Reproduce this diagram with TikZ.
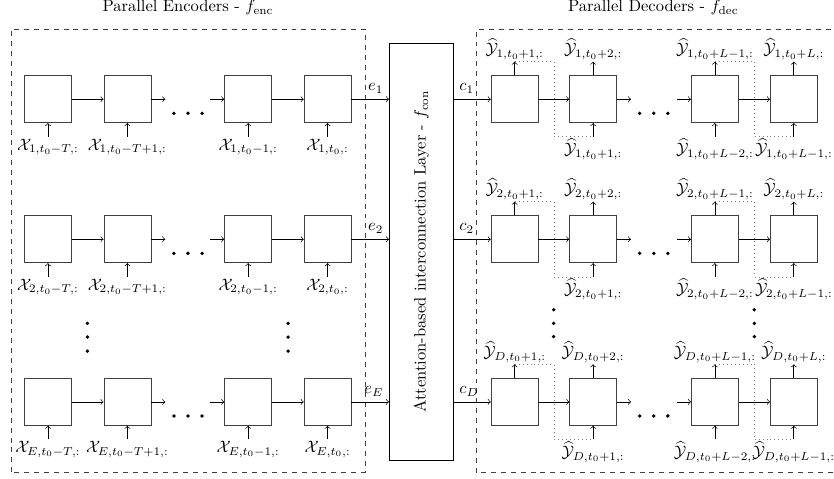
\documentclass[tikz,border=0pt]{standalone}
\usepackage{xcolor}
\usepackage{amsmath}
\usepackage{amsfonts}
\usepackage{amssymb}
\usetikzlibrary{calc}
\usetikzlibrary{positioning}

\begin{document}
\begin{tikzpicture}[->]
\tikzset{CellStyle/.style = {shape=rectangle, draw=darkgray, minimum size=1cm, inner sep=0pt}}
\tikzset{InStyle/.style = {anchor=north, inner sep=1pt}}
\tikzset{OutStyle/.style = {anchor=south, inner sep=1pt}}
\tikzset{FeedStyle/.style = {-, dotted, gray}}
\tikzset{FrameStyle/.style = {-, dashed, darkgray}}
\tikzset{DotStyle/.style = {-, fill=black}}
	\useasboundingbox (0,0) rectangle (17.745,10.191);

	\node[anchor=base] (tenc) at (4.0,9.936) {Parallel Encoders - $f_{\text{enc}}$};
	\node[anchor=base] (tdec) at (13.9,9.936) {Parallel Decoders - $f_{\text{dec}}$};
	\draw[FrameStyle] (0.234,0.143) rectangle (7.766,9.568);
	\draw[FrameStyle] (10.134,0.134) rectangle (18.2,9.568);

	\node[draw, rotate=90, minimum width=8.87cm, minimum height=1.36cm] (att) at (8.964,4.84) {Attention-based interconnection Layer - $f_{\text{con}}$};

	\node[CellStyle] (e11) at (1.02,8.08) {};
	\node[CellStyle] (e12) at (2.71,8.08) {};
	\node[CellStyle] (e13) at (5.28,8.08) {};
	\node[CellStyle] (e14) at (6.97,8.08) {};
	\coordinate[right=0.3cm of e12] (e1a);
	\coordinate[left=0.3cm of e13] (e1b);
	\node[InStyle] (x11) at (1.02,7.28) {$\mathcal{X}_{1,t_0-T,:}$};
	\node[InStyle] (x12) at (2.71,7.28) {$\mathcal{X}_{1,t_0-T+1,:}$};
	\node[InStyle] (x13) at (5.28,7.28) {$\mathcal{X}_{1,t_0-1,:}$};
	\node[InStyle] (x14) at (6.97,7.28) {$\mathcal{X}_{1,t_0,:}$};
	\draw (e11) -- (e12);
	\draw (e12) -- (e1a);
	\draw (e1b) -- (e13);
	\draw (e13) -- (e14);
	\draw (x11) -- (e11);
	\draw (x12) -- (e12);
	\draw (x13) -- (e13);
	\draw (x14) -- (e14);
	\draw (e14) -- (e14 -| att.north) node[above left] {$e_1$};
	\fill[DotStyle] (3.70,7.78) circle (0.04) (4.00,7.78) circle (0.04) (4.30,7.78) circle (0.04);

	\node[CellStyle] (e21) at (1.02,5.10) {};
	\node[CellStyle] (e22) at (2.71,5.10) {};
	\node[CellStyle] (e23) at (5.28,5.10) {};
	\node[CellStyle] (e24) at (6.97,5.10) {};
	\coordinate[right=0.3cm of e22] (e2a);
	\coordinate[left=0.3cm of e23] (e2b);
	\node[InStyle] (x21) at (1.02,4.30) {$\mathcal{X}_{2,t_0-T,:}$};
	\node[InStyle] (x22) at (2.71,4.30) {$\mathcal{X}_{2,t_0-T+1,:}$};
	\node[InStyle] (x23) at (5.28,4.30) {$\mathcal{X}_{2,t_0-1,:}$};
	\node[InStyle] (x24) at (6.97,4.30) {$\mathcal{X}_{2,t_0,:}$};
	\draw (e21) -- (e22);
	\draw (e22) -- (e2a);
	\draw (e2b) -- (e23);
	\draw (e23) -- (e24);
	\draw (x21) -- (e21);
	\draw (x22) -- (e22);
	\draw (x23) -- (e23);
	\draw (x24) -- (e24);
	\draw (e24) -- (e24 -| att.north) node[above left] {$e_2$};
	\fill[DotStyle] (3.70,4.80) circle (0.04) (4.00,4.80) circle (0.04) (4.30,4.80) circle (0.04);

	\fill[DotStyle] (1.86,3.31) circle (0.04) (1.86,3.02) circle (0.04) (1.86,2.72) circle (0.04);
	\fill[DotStyle] (6.13,3.31) circle (0.04) (6.13,3.02) circle (0.04) (6.13,2.72) circle (0.04);

	\node[CellStyle] (eE1) at (1.02,1.64) {};
	\node[CellStyle] (eE2) at (2.71,1.64) {};
	\node[CellStyle] (eE3) at (5.28,1.64) {};
	\node[CellStyle] (eE4) at (6.97,1.64) {};
	\coordinate[right=0.3cm of eE2] (eEa);
	\coordinate[left=0.3cm of eE3] (eEb);
	\node[InStyle] (xE1) at (1.02,0.84) {$\mathcal{X}_{E,t_0-T,:}$};
	\node[InStyle] (xE2) at (2.71,0.84) {$\mathcal{X}_{E,t_0-T+1,:}$};
	\node[InStyle] (xE3) at (5.28,0.84) {$\mathcal{X}_{E,t_0-1,:}$};
	\node[InStyle] (xE4) at (6.97,0.84) {$\mathcal{X}_{E,t_0,:}$};
	\draw (eE1) -- (eE2);
	\draw (eE2) -- (eEa);
	\draw (eEb) -- (eE3);
	\draw (eE3) -- (eE4);
	\draw (xE1) -- (eE1);
	\draw (xE2) -- (eE2);
	\draw (xE3) -- (eE3);
	\draw (xE4) -- (eE4);
	\draw (eE4) -- (eE4 -| att.north) node[above left] {$e_E$};
	\fill[DotStyle] (3.70,1.34) circle (0.04) (4.00,1.34) circle (0.04) (4.30,1.34) circle (0.04);

	\node[CellStyle] (d11) at (10.95,8.08) {};
	\node[CellStyle] (d12) at (12.62,8.08) {};
	\node[CellStyle] (d13) at (15.21,8.08) {};
	\node[CellStyle] (d14) at (16.89,8.08) {};
	\coordinate[right=0.3cm of d12] (d1a);
	\coordinate[left=0.3cm of d13] (d1b);
	\node[OutStyle] (yo11) at (10.95,8.88) {$\widehat{\mathcal{Y}}_{1,t_0+1,:}$};
	\node[OutStyle] (yo12) at (12.62,8.88) {$\widehat{\mathcal{Y}}_{1,t_0+2,:}$};
	\node[OutStyle] (yo13) at (15.21,8.88) {$\widehat{\mathcal{Y}}_{1,t_0+L-1,:}$};
	\node[OutStyle] (yo14) at (16.89,8.88) {$\widehat{\mathcal{Y}}_{1,t_0+L,:}$};
	\node[InStyle] (yi12) at (12.62,7.28) {$\widehat{\mathcal{Y}}_{1,t_0+1,:}$};
	\node[InStyle] (yi13) at (15.21,7.28) {$\widehat{\mathcal{Y}}_{1,t_0+L-2,:}$};
	\node[InStyle] (yi14) at (16.89,7.28) {$\widehat{\mathcal{Y}}_{1,t_0+L-1,:}$};
	\draw (d11 -| att.south) node[above right] {$c_1$} -- (d11);
	\draw (d11) -- (d12);
	\draw (d12) -- (d1a);
	\draw (d1b) -- (d13);
	\draw (d13) -- (d14);
	\draw (d11) -- (yo11);
	\draw (d12) -- (yo12);
	\draw (d13) -- (yo13);
	\draw (d14) -- (yo14);
	\draw (yi12) -- (d12);
	\draw (yi13) -- (d13);
	\draw (yi14) -- (d14);
	\draw[FeedStyle] (yo11.south) -| ($(d11)!0.5!(d12)$) |- (yi12.north);
	\draw[FeedStyle] (yo13.south) -| ($(d13)!0.5!(d14)$) |- (yi14.north);
	\fill[DotStyle] (13.61,7.78) circle (0.04) (13.91,7.78) circle (0.04) (14.21,7.78) circle (0.04);

	\node[CellStyle] (d21) at (10.95,5.10) {};
	\node[CellStyle] (d22) at (12.62,5.10) {};
	\node[CellStyle] (d23) at (15.21,5.10) {};
	\node[CellStyle] (d24) at (16.89,5.10) {};
	\coordinate[right=0.3cm of d22] (d2a);
	\coordinate[left=0.3cm of d23] (d2b);
	\node[OutStyle] (yo21) at (10.95,5.90) {$\widehat{\mathcal{Y}}_{2,t_0+1,:}$};
	\node[OutStyle] (yo22) at (12.62,5.90) {$\widehat{\mathcal{Y}}_{2,t_0+2,:}$};
	\node[OutStyle] (yo23) at (15.21,5.90) {$\widehat{\mathcal{Y}}_{2,t_0+L-1,:}$};
	\node[OutStyle] (yo24) at (16.89,5.90) {$\widehat{\mathcal{Y}}_{2,t_0+L,:}$};
	\node[InStyle] (yi22) at (12.62,4.30) {$\widehat{\mathcal{Y}}_{2,t_0+1,:}$};
	\node[InStyle] (yi23) at (15.21,4.30) {$\widehat{\mathcal{Y}}_{2,t_0+L-2,:}$};
	\node[InStyle] (yi24) at (16.89,4.30) {$\widehat{\mathcal{Y}}_{2,t_0+L-1,:}$};
	\draw (d21 -| att.south) node[above right] {$c_2$} -- (d21);
	\draw (d21) -- (d22);
	\draw (d22) -- (d2a);
	\draw (d2b) -- (d23);
	\draw (d23) -- (d24);
	\draw (d21) -- (yo21);
	\draw (d22) -- (yo22);
	\draw (d23) -- (yo23);
	\draw (d24) -- (yo24);
	\draw (yi22) -- (d22);
	\draw (yi23) -- (d23);
	\draw (yi24) -- (d24);
	\draw[FeedStyle] (yo21.south) -| ($(d21)!0.5!(d22)$) |- (yi22.north);
	\draw[FeedStyle] (yo23.south) -| ($(d23)!0.5!(d24)$) |- (yi24.north);
	\fill[DotStyle] (13.61,4.80) circle (0.04) (13.91,4.80) circle (0.04) (14.21,4.80) circle (0.04);

	\fill[DotStyle] (11.78,3.60) circle (0.04) (11.78,3.31) circle (0.04) (11.78,3.03) circle (0.04);
	\fill[DotStyle] (16.05,3.60) circle (0.04) (16.05,3.31) circle (0.04) (16.05,3.03) circle (0.04);

	\node[CellStyle] (dD1) at (10.95,1.64) {};
	\node[CellStyle] (dD2) at (12.62,1.64) {};
	\node[CellStyle] (dD3) at (15.21,1.64) {};
	\node[CellStyle] (dD4) at (16.89,1.64) {};
	\coordinate[right=0.3cm of dD2] (dDa);
	\coordinate[left=0.3cm of dD3] (dDb);
	\node[OutStyle] (yoD1) at (10.95,2.44) {$\widehat{\mathcal{Y}}_{D,t_0+1,:}$};
	\node[OutStyle] (yoD2) at (12.62,2.44) {$\widehat{\mathcal{Y}}_{D,t_0+2,:}$};
	\node[OutStyle] (yoD3) at (15.21,2.44) {$\widehat{\mathcal{Y}}_{D,t_0+L-1,:}$};
	\node[OutStyle] (yoD4) at (16.89,2.44) {$\widehat{\mathcal{Y}}_{D,t_0+L,:}$};
	\node[InStyle] (yiD2) at (12.62,0.84) {$\widehat{\mathcal{Y}}_{D,t_0+1,:}$};
	\node[InStyle] (yiD3) at (15.21,0.84) {$\widehat{\mathcal{Y}}_{D,t_0+L-2,:}$};
	\node[InStyle] (yiD4) at (16.89,0.84) {$\widehat{\mathcal{Y}}_{D,t_0+L-1,:}$};
	\draw (dD1 -| att.south) node[above right] {$c_D$} -- (dD1);
	\draw (dD1) -- (dD2);
	\draw (dD2) -- (dDa);
	\draw (dDb) -- (dD3);
	\draw (dD3) -- (dD4);
	\draw (dD1) -- (yoD1);
	\draw (dD2) -- (yoD2);
	\draw (dD3) -- (yoD3);
	\draw (dD4) -- (yoD4);
	\draw (yiD2) -- (dD2);
	\draw (yiD3) -- (dD3);
	\draw (yiD4) -- (dD4);
	\draw[FeedStyle] (yoD1.south) -| ($(dD1)!0.5!(dD2)$) |- (yiD2.north);
	\draw[FeedStyle] (yoD3.south) -| ($(dD3)!0.5!(dD4)$) |- (yiD4.north);
	\fill[DotStyle] (13.61,1.34) circle (0.04) (13.91,1.34) circle (0.04) (14.21,1.34) circle (0.04);

\end{tikzpicture}
\end{document}
